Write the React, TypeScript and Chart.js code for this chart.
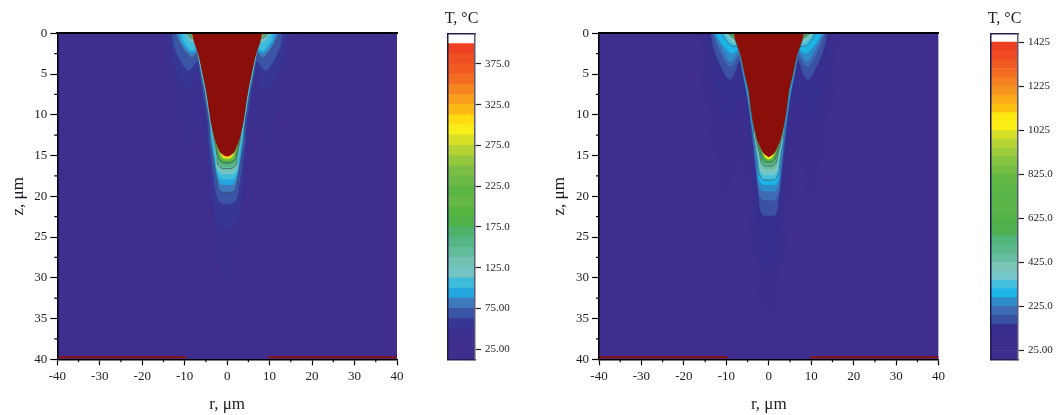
import React, { useEffect, useRef } from "react";
import { Chart, registerables } from "chart.js";

Chart.register(...registerables);

const FONT = "'Liberation Serif', serif";
const TEXT = "#1c1c24";

const X_MAJOR_STEP = 10;
const Z_MAJOR_STEP = 5;
const X_MINOR = [-35, -25, -15, -5, 5, 15, 25, 35];
const Z_MINOR = [2.5, 7.5, 12.5, 17.5, 22.5, 27.5, 32.5, 37.5];
const DOMAIN = [[-40, 0], [40, 0], [40, 40], [-40, 40]];
const FLOOR_LEFT_A = [[-40, 39.75], [-9.7, 39.75]];
const FLOOR_LEFT_B = [[9.6, 39.75], [40, 39.75]];
const FLOOR_RIGHT_A = [[-40, 39.75], [-9.7, 39.75]];
const FLOOR_RIGHT_B = [[9.7, 39.75], [40, 39.75]];
const MELT_COLOR = "#8a0f0a";
const FLOOR_COLOR = "#8a1010";

const LEFT_COLORS = ["#402e8e", "#402e8e", "#3b2f90", "#373596", "#3a55a5", "#3f7abf", "#24a6df", "#3fbcd9", "#73c4c4", "#71c2b3", "#62bc9a", "#55b585", "#4db16a", "#50b14a", "#55b33f", "#64b843", "#5bb545", "#6cb945", "#7cbe43", "#96c83e", "#b5d334", "#d8df26", "#f8ee1a", "#ffdd12", "#fdb813", "#f99d1c", "#f68420", "#f26c22", "#f15b22", "#f04e23", "#ee4023", "#ffffff"];
const LEFT_EDGES = [12.5, 25, 37.5, 50, 62.5, 75, 87.5, 100, 112.5, 125, 137.5, 150, 162.5, 175, 187.5, 200, 212.5, 225, 237.5, 250, 262.5, 275, 287.5, 300, 312.5, 325, 337.5, 350, 362.5, 375, 387.5, 400, 412.5];
const LEFT_TICKS = [25, 75, 125, 175, 225, 275, 325, 375];
const LEFT_TICK_LABELS = ["25.00", "75.00", "125.0", "175.0", "225.0", "275.0", "325.0", "375.0"];

const RIGHT_COLORS = ["#402e8e", "#402e8e", "#3c2e8e", "#372f90", "#3b52a3", "#3d6cb5", "#2f8ac9", "#1cb5e8", "#44bfdc", "#76c8c8", "#7ac5b5", "#68bea0", "#5cb98c", "#50b578", "#4cb04f", "#50b14a", "#55b347", "#5ab546", "#58b547", "#5cb646", "#64b945", "#74bd43", "#87c440", "#9ccb3b", "#b7d433", "#d5e027", "#fbee14", "#fde910", "#fdc010", "#fbaa19", "#f7941d", "#f58020", "#f36c21", "#f15a22", "#f04a23", "#ee4023", "#ffffff"];
const RIGHT_EDGES = [-15, 25, 65, 105, 145, 185, 225, 265, 305, 345, 385, 425, 465, 505, 545, 585, 625, 665, 705, 745, 785, 825, 865, 905, 945, 985, 1025, 1065, 1105, 1145, 1185, 1225, 1265, 1305, 1345, 1385, 1425, 1465];
const RIGHT_TICKS = [25, 225, 425, 625, 825, 1025, 1225, 1425];
const RIGHT_TICK_LABELS = ["25.00", "225.0", "425.0", "625.0", "825.0", "1025", "1225", "1425"];

// half outlines of the isotherms [r, z], from the surface to the axis
const L3 = [[15.4,0],[14.8,3],[13.2,7],[11.6,11],[10.6,13.4],[9.9,14.3],[8.8,13.6],[7.2,11.5],[6.3,11.3],[5.6,13.4],[4.9,16],[3.6,22],[2.7,27],[1.2,30],[0,31]];
const L4 = [[14.2,0],[13.4,2],[11.8,5],[10,6.6],[9.1,7.1],[8.2,6.4],[7.1,4.7],[6.6,5],[6,7],[5.4,9],[4.9,11],[4.6,13],[4.2,16],[3.4,20],[2.6,22.9],[1.4,23.7],[0,23.8]];
const L5 = [[13,0],[12.6,1.5],[11.4,3],[10,4.2],[9.1,4.6],[8.2,4.2],[7,3.4],[6.4,5],[5.7,7],[5.1,9],[4.5,11],[4.3,13],[3.6,16],[2.8,19],[2.2,20.4],[1.4,20.85],[0,20.9]];
const L6 = [[12.2,0],[11.4,1],[10,2.2],[8.5,3],[7.9,2.9],[7.1,2.4],[6.2,5],[5.4,7],[4.8,9],[4.2,11],[4,13],[3,16],[2.4,18],[2,19],[1.4,19.45],[0,19.5]];
const L7 = [[11.5,0],[10.9,.9],[9.8,1.8],[8.6,2.4],[7.8,2.4],[7,2.1],[6.1,5],[5.3,7],[4.7,9],[4.1,11],[3.7,13],[3.2,15],[2.6,17],[2,18.1],[1.4,18.55],[0,18.6]];
const L8 = [[10.8,0],[10.3,.9],[9.3,1.7],[8.4,2.1],[7.4,1.9],[6.8,3],[6,5],[5.2,7],[4.6,9],[4,11],[3.5,13],[2.9,15],[2.5,16.8],[1.5,17.85],[0,17.9]];
const L9 = [[9.9,0],[9.5,.5],[8.9,.9],[8.2,1.1],[7.6,1.1],[6.7,3],[5.9,5],[5.1,7],[4.5,9],[3.9,11],[3.3,13],[2.7,15],[2.5,16.5],[1.5,17.25],[0,17.3]];
const L10 = [[9.7,0],[9.2,.45],[8.6,.7],[8,.85],[7.7,.8],[6.4,3],[5.6,5],[4.8,7],[4.2,9],[3.6,11],[3.2,13],[2.5,15],[2.3,16.3],[1.3,16.85],[0,16.9]];
const L11 = [[9.5,0],[9,.4],[8.4,.6],[7.9,.65],[6.4,3],[5.6,5],[4.8,7],[4.2,9],[3.6,11],[3.1,13],[2.4,15],[2.2,16.1],[1.2,16.55],[0,16.6]];
const L12 = [[9.3,0],[8.8,.3],[8.2,.5],[7.95,.5],[6.4,3],[5.6,5],[4.8,7],[4.2,9],[3.6,11],[3.05,13],[2.3,15],[2.1,15.9],[1.1,16.3],[0,16.35]];
const L13 = [[9.1,0],[8.6,.25],[8.1,.4],[6.4,3],[5.6,5],[4.8,7],[4.2,9],[3.6,11],[3,13],[2.2,15],[2,15.7],[1,16.05],[0,16.1]];
const L14 = [[8.9,0],[8.5,.2],[8.1,.3],[6.4,3],[5.6,5],[4.8,7],[4.2,9],[3.6,11],[2.9,13],[2.15,15],[1.9,15.5],[.9,15.85],[0,15.9]];
const L16 = [[8.7,0],[8.3,.15],[6.4,3],[5.6,5],[4.8,7],[4.2,9],[3.6,11],[2.8,13],[2,14.9],[1.7,15.35],[.9,15.65],[0,15.7]];
const L20 = [[8.5,0],[6.4,3],[5.6,5],[4.8,7],[4.2,9],[3.6,11],[2.7,13],[1.7,14.8],[1.3,15.25],[.8,15.45],[0,15.5]];
const L23 = [[8.45,0],[6.4,3],[5.6,5],[4.8,7],[4.2,9],[3.6,11],[2.6,13],[1.4,14.8],[1,15.2],[.5,15.3],[0,15.33]];
const L27 = [[8.2,0],[6.4,3],[5.6,5],[4.8,7],[4.2,9],[3.6,11],[2.6,13],[1.3,14.7],[.8,15.1],[0,15.2]];
const L_MELT = [[8.3,0],[7.85,1],[7.2,2],[6.6,3],[5.8,5],[5,7],[4.4,9],[3.8,11],[2.9,13],[2.2,14],[1.5,14.7],[0,15.1]];

const R3 = [[16.6,0],[16,4],[14.5,10],[12.5,16],[10.8,19.5],[9.8,20],[8.6,18.5],[7.2,15.5],[6,15],[5.2,18],[4.4,23],[3.4,28],[2.2,32],[1,34],[0,34.8]];
const R4 = [[14.6,0],[14,3],[12.8,6.5],[11,9.5],[9.6,10.5],[8.4,9.8],[7,8],[6,8.5],[5,11],[4.5,14],[3.8,19],[3.2,23],[2.4,26],[1.2,28.5],[0,29]];
const R5 = [[13.7,0],[13.2,1.5],[11.8,3.5],[10.2,5.2],[9.1,5.7],[8.1,5],[6.9,3.4],[6.2,5],[5.4,7],[4.8,9],[4.3,11],[3.9,13],[3.3,16],[2.6,19],[2.1,21.5],[1.5,22.3],[0,22.4]];
const R6 = [[13.2,0],[12.4,1.2],[11,2.8],[9.9,3.8],[9.1,4.1],[8.2,3.8],[7,2.8],[6.1,5],[5.3,7],[4.7,9],[4.2,11],[3.7,13],[3.1,16],[2.6,19],[2.1,20],[1.5,20.45],[0,20.5]];
const R7 = [[12.9,0],[12,.9],[10.8,2.2],[9.7,3.2],[9,3.5],[8.2,3.2],[7.2,2.4],[6.05,5],[5.25,7],[4.65,9],[4.1,11],[3.6,13],[2.9,16],[2.4,18.5],[1.6,19.35],[0,19.4]];
const R8 = [[12.6,0],[11.8,.7],[10.6,1.6],[9.4,2.3],[8.6,2.5],[7.8,2.3],[7.1,2.1],[6,5],[5.2,7],[4.6,9],[4,11],[3.5,13],[2.8,16],[2.4,17.8],[1.6,18.55],[0,18.6]];
const R9 = [[11,0],[10.5,.5],[9.7,1.1],[8.9,1.5],[8.2,1.6],[7.5,1.6],[6.6,3],[5.8,5],[4.9,7],[4.4,9],[3.8,11],[3.4,13],[2.6,16],[2.3,17.2],[1.4,17.95],[0,18]];
const R10 = [[10.3,0],[9.9,.35],[9.3,.8],[8.6,1.1],[8,1.2],[7.6,1.2],[6.3,3],[5.5,5],[4.6,7],[4.1,9],[3.5,11],[3.3,13],[2.4,15.5],[2.2,16.7],[1.3,17.35],[0,17.4]];
const R11 = [[10,0],[9.5,.35],[8.9,.65],[8.3,.85],[7.9,.9],[6.3,3],[5.5,5],[4.6,7],[4.1,9],[3.5,11],[3.2,13],[2.3,15.3],[2,16.4],[1.1,16.95],[0,17]];
const R12 = [[9.8,0],[9.3,.3],[8.7,.55],[8.2,.7],[7.95,.75],[6.3,3],[5.5,5],[4.6,7],[4.1,9],[3.5,11],[3.1,13],[2.2,15.2],[1.9,16.1],[1,16.65],[0,16.7]];
const R13 = [[9.6,0],[9.1,.27],[8.6,.45],[8.1,.6],[6.3,3],[5.5,5],[4.6,7],[4.1,9],[3.5,11],[3,13],[2.1,15],[1.8,15.8],[1,16.25],[0,16.3]];
const R14 = [[9.4,0],[8.9,.22],[8.4,.4],[8,.5],[6.3,3],[5.5,5],[4.6,7],[4.1,9],[3.5,11],[2.85,13],[2,15],[1.7,15.6],[.9,16.05],[0,16.1]];
const R16 = [[9.1,0],[8.6,.18],[8.2,.35],[6.3,3],[5.5,5],[4.6,7],[4.1,9],[3.5,11],[2.7,13],[1.8,14.9],[1.5,15.4],[.9,15.75],[0,15.8]];
const R20 = [[8.8,0],[8.4,.12],[6.3,3],[5.5,5],[4.6,7],[4.1,9],[3.5,11],[2.6,13],[1.5,14.8],[.8,15.45],[0,15.62]];
const R24 = [[8.4,0],[6.3,3],[5.5,5],[4.6,7],[4.1,9],[3.5,11],[2.5,13],[1.3,14.8],[.7,15.35],[0,15.5]];
const R27 = [[8.2,0],[6.3,3],[5.5,5],[4.6,7],[4.1,9],[3.5,11],[2.5,13],[1.2,14.8],[.6,15.3],[0,15.42]];
const R_MELT = [[8.3,0],[7.8,1],[7.1,2],[6.5,3],[5.7,5],[4.8,7],[4.3,9],[3.7,11],[2.8,13],[2,14],[1.3,14.7],[0,15.2]];

const LEFT_OUTLINES = [L3, L4, L5, L6, L7, L8, L9, L10, L11, L12, L13, L14, L16, L20, L23, L27];
const LEFT_BANDS = [3, 4, 5, 6, 7, 8, 9, 10, 11, 12, 13, 14, 16, 20, 23, 27];
const LEFT_LINED = [6, 11, 14];
const RIGHT_OUTLINES = [R3, R4, R5, R6, R7, R8, R9, R10, R11, R12, R13, R14, R16, R20, R24, R27];
const RIGHT_BANDS = [3, 4, 5, 6, 7, 8, 9, 10, 11, 12, 13, 14, 16, 20, 24, 27];
const RIGHT_LINED = [9, 13, 16];

const pts = (a: number[][]) => a.map(([x, y]) => ({ x, y }));
const closed = (half: number[][]) => [
  ...half,
  ...half.slice(0, -1).reverse().map(([r, z]) => [-r, z]),
];

function contourDatasets(outlines: number[][][], bands: number[], lined: number[], colors: string[], melt: number[][], floorA: number[][], floorB: number[][]) {
  const region = (poly: number[][], color: string, line: boolean, order: number, tension = 0.25) => ({
    data: pts(poly), showLine: true, fill: "shape", backgroundColor: color,
    borderColor: line ? "rgba(62,78,92,0.65)" : "transparent", borderWidth: line ? 1 : 0,
    pointRadius: 0, tension, order,
  });
  const n = outlines.length + 4;
  const out: any[] = [region(DOMAIN, colors[0], false, n, 0)];
  outlines.forEach((o, i) => {
    const band = bands[i];
    out.push(region(closed(o), colors[band - 1], lined.includes(band), n - 1 - i));
  });
  out.push(region(closed(melt), MELT_COLOR, false, 3));
  [floorA, floorB].forEach((f, i) => out.push({
    data: pts(f), showLine: true, fill: false, borderColor: FLOOR_COLOR, borderWidth: 2, pointRadius: 0, order: i,
  }));
  return out;
}

const minorTicks = {
  id: "minorTicks",
  afterDraw(chart: any) {
    const { ctx, scales } = chart;
    ctx.save();
    ctx.strokeStyle = "#000";
    ctx.lineWidth = 1.2;
    ctx.beginPath();
    X_MINOR.forEach((v) => {
      const p = scales.x.getPixelForValue(v);
      ctx.moveTo(p, scales.y.bottom);
      ctx.lineTo(p, scales.y.bottom + 3);
    });
    Z_MINOR.forEach((v) => {
      const p = scales.y.getPixelForValue(v);
      ctx.moveTo(scales.x.left, p);
      ctx.lineTo(scales.x.left - 3, p);
    });
    ctx.stroke();
    ctx.restore();
  },
};

function Contour({ left, width, yWidth, right, datasets }: any) {
  const ref = useRef<HTMLCanvasElement>(null);
  useEffect(() => {
    const chart = new Chart(ref.current!, {
      type: "scatter",
      data: { datasets },
      plugins: [minorTicks],
      options: {
        animation: false, responsive: false,
        layout: { padding: { top: 33.3, right, bottom: 0, left: 0 }, autoPadding: false },
        plugins: { legend: { display: false }, tooltip: { enabled: false } },
        scales: {
          x: {
            type: "linear", min: -40, max: 40,
            afterFit: (s: any) => { s.height = 55.7; },
            ticks: { stepSize: X_MAJOR_STEP, color: TEXT, font: { family: FONT, size: 13 }, padding: 3, maxRotation: 0 },
            grid: { drawOnChartArea: false, tickLength: 6, tickColor: "#000", tickWidth: 1.2 },
            border: { color: "#000", width: 1.5, z: 1 },
            title: { display: true, text: "r, μm", color: TEXT, font: { family: FONT, size: 17 }, padding: { top: 0, bottom: 0 } },
          },
          top: {
            type: "linear", position: "top", min: -40, max: 40,
            afterFit: (s: any) => { s.height = 0; },
            ticks: { display: false },
            grid: { drawOnChartArea: false, drawTicks: false },
            border: { color: "#000", width: 2, z: 1 },
          },
          y: {
            type: "linear", reverse: true, min: 0, max: 40,
            afterFit: (s: any) => { s.width = yWidth; },
            ticks: { stepSize: Z_MAJOR_STEP, color: TEXT, font: { family: FONT, size: 13 }, padding: 3 },
            grid: { drawOnChartArea: false, tickLength: 7, tickColor: "#000", tickWidth: 1.2 },
            border: { color: "#000", width: 1.5, z: 1 },
            title: { display: true, text: "z, μm", color: TEXT, font: { family: FONT, size: 17 }, padding: { top: 8, bottom: 0 } },
          },
        },
      } as any,
    });
    return () => chart.destroy();
  }, []);
  return <canvas ref={ref} width={width} height={415} style={{ position: "absolute", left, top: 0, width, height: 415 }} />;
}

function ColorBar({ left, edges, colors, ticks, labels }: any) {
  const ref = useRef<HTMLCanvasElement>(null);
  useEffect(() => {
    const W = 117;
    const barLeft = 45;
    const chart = new Chart(ref.current!, {
      type: "bar",
      data: {
        labels: ["T"],
        datasets: colors.map((c: string, i: number) => ({
          data: [[edges[i], edges[i + 1]]], backgroundColor: c, barPercentage: 1, categoryPercentage: 1, borderWidth: 0,
          xAxisID: "x", yAxisID: "y",
        })),
      },
      options: {
        animation: false, responsive: false,
        layout: { padding: { top: 0, right: 0, bottom: 55.7, left: 0 }, autoPadding: false },
        plugins: {
          legend: { display: false }, tooltip: { enabled: false },
          title: { display: true, text: "T, °C", color: TEXT, font: { family: FONT, size: 16, weight: "normal" }, padding: { top: 9, bottom: 0 } },
        },
        scales: {
          x: {
            type: "category", position: "top", stacked: true,
            afterFit: (s: any) => { s.height = 5.1; },
            ticks: { display: false },
            grid: { drawOnChartArea: false, drawTicks: false },
            border: { color: "#1d1d50", width: 1.5, z: 1 },
          },
          xb: {
            type: "linear", position: "bottom", min: 0, max: 1,
            afterFit: (s: any) => { s.height = 0; },
            ticks: { display: false },
            grid: { drawOnChartArea: false, drawTicks: false },
            border: { color: "#1d1d50", width: 1.5, z: 1 },
          },
          yl: {
            type: "linear", position: "left", min: 0, max: 1,
            afterFit: (s: any) => { s.width = barLeft; },
            ticks: { display: false },
            grid: { drawOnChartArea: false, drawTicks: false },
            border: { color: "#1d1d50", width: 1.5, z: 1 },
          },
          y: {
            type: "linear", position: "right", min: edges[0], max: edges[edges.length - 1],
            afterFit: (s: any) => { s.width = W - barLeft - 27; },
            afterBuildTicks: (s: any) => { s.ticks = ticks.map((value: number) => ({ value })); },
            ticks: {
              color: TEXT, font: { family: FONT, size: 11 }, padding: 4,
              callback: (v: number) => labels[ticks.indexOf(v)],
            },
            grid: { drawOnChartArea: false, tickLength: 6, tickColor: "#222", tickWidth: 1.2 },
            border: { color: "#5a5a78", width: 1.5, z: 1 },
          },
        },
      } as any,
    });
    return () => chart.destroy();
  }, []);
  return <canvas ref={ref} width={117} height={415} style={{ position: "absolute", left, top: 0, width: 117, height: 415 }} />;
}

export default function App() {
  useEffect(() => { document.body.style.margin = "0"; }, []);
  const leftSets = contourDatasets(LEFT_OUTLINES, LEFT_BANDS, LEFT_LINED, LEFT_COLORS, L_MELT, FLOOR_LEFT_A, FLOOR_LEFT_B);
  const rightSets = contourDatasets(RIGHT_OUTLINES, RIGHT_BANDS, RIGHT_LINED, RIGHT_COLORS, R_MELT, FLOOR_RIGHT_A, FLOOR_RIGHT_B);
  return (
    <div style={{ position: "fixed", left: 0, top: 0, width: 1057, height: 415, background: "#fff", overflow: "hidden" }}>
      <Contour left={0} width={420} yWidth={57.3} right={23} datasets={leftSets} />
      <ColorBar left={403.3} edges={LEFT_EDGES} colors={LEFT_COLORS} ticks={LEFT_TICKS} labels={LEFT_TICK_LABELS} />
      <Contour left={541} width={420} yWidth={58} right={22.4} datasets={rightSets} />
      <ColorBar left={945.5} edges={RIGHT_EDGES} colors={RIGHT_COLORS} ticks={RIGHT_TICKS} labels={RIGHT_TICK_LABELS} />
    </div>
  );
}
